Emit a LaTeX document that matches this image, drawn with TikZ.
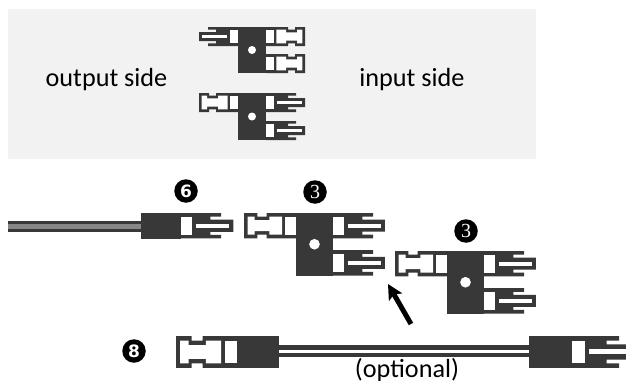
\documentclass[tikz,border=0pt]{standalone}
\usepackage{fontspec}
\setmainfont{Carlito}
\newfontfamily\badgeserif{Liberation Serif}
\newfontfamily\badgesans{DejaVu Sans}
\usetikzlibrary{arrows.meta}
\definecolor{housing}{HTML}{383838}
\definecolor{panel}{HTML}{F2F2F2}
\newcommand{\femaleshape}{%
  \path[housingfill] (0,0)--(10,0)--(10,2.7)--(17,2.7)--(17,0)--(39,0)--(39,19)--(17,19)--(17,16.3)--(10,16.3)--(10,19)--(0,19)--cycle;
  \path[gapfill] (2.7,2.7)--(8,2.7)--(8,5.4)--(19,5.4)--(19,2.7)--(28.7,2.7)--(28.7,16.3)--(19,16.3)--(19,13.6)--(8,13.6)--(8,16.3)--(2.7,16.3)--cycle;
  \path[gapfill] (31,2.7) rectangle (39,16.3);
}
\newcommand{\maleshape}{%
  \path[housingfill] (0,0)--(30,0)--(30,2.7)--(22,2.7)--(22,5)--(39,5)--(39,14)--(22,14)--(22,16.3)--(30,16.3)--(30,19)--(0,19)--cycle;
  \path[gapfill] (0,2.7) rectangle (8,16.3);
  \path[gapfill] (11,8) rectangle (36,11);
}
\newcommand{\teeshape}{%
  \femaleshape
  \path[housingfill] (39,0) rectangle (67,47);
  \begin{scope}[shift={(67,0)}]\maleshape\end{scope}
  \begin{scope}[shift={(67,28)}]\maleshape\end{scope}
  \path[gapfill] (53,23.5) circle[radius=4];
}
\tikzset{
  x=1pt,y=-1pt,
  housingfill/.style={fill=housing,draw=none},
  gapfill/.style={fill=white,draw=none},
  badge/.style={circle,fill=black,text=white,inner sep=0pt,minimum size=23.5pt},
  caption/.style={inner sep=0pt,anchor=base,font=\fontsize{26.2}{30}\selectfont,text=black},
}
\begin{document}
\begin{tikzpicture}
\useasboundingbox (0,0) rectangle (626,380);
\clip (0,0) rectangle (626,380);
\path[fill=panel] (8,9) rectangle (536,159);

% top panel, upper connector
\begin{scope}[shift={(238,27)}]
  \path[housingfill] (0,0) rectangle (28,46);
  \begin{scope}[xscale=-1]\maleshape\end{scope}
  \begin{scope}[shift={(67,0)},xscale=-1]\femaleshape\end{scope}
  \begin{scope}[shift={(67,27)},xscale=-1]\femaleshape\end{scope}
  \path[gapfill] (14,23) circle[radius=4];
\end{scope}
% top panel, lower connector
\begin{scope}[shift={(199,93)}]\teeshape\end{scope}

\node[caption] (outlabel) at (106.5,86) {output side};
\node[caption] (inlabel) at (412,86) {input side};

% connector 6 with cable
\path[housingfill] (8,221) rectangle (141,232);
\path[fill=black!47] (8,224) rectangle (141,229);
\path[housingfill] (141,213) rectangle (181,239);
\begin{scope}[shift={(181,213)},scale=1.34]\maleshape\end{scope}

% tee connectors
\begin{scope}[shift={(244,213)},scale=1.33]\teeshape\end{scope}
\begin{scope}[shift={(395,251)},scale=1.33]\teeshape\end{scope}

% optional cable
\path[housingfill] (279,345) rectangle (529,357);
\path[gapfill] (279,350) rectangle (529,353);
\begin{scope}[shift={(176,336)},xscale=1.57,yscale=1.68]\femaleshape\end{scope}
\path[housingfill] (237,336) rectangle (279,368);
\path[housingfill] (529,336) rectangle (572,368);
\begin{scope}[shift={(572,336)},xscale=1.57,yscale=1.68]\maleshape\end{scope}

\node[caption] (optlabel) at (407,377) {(optional)};

% badges
\node[badge,font=\fontsize{17}{17}\selectfont\badgesans\bfseries] (six) at (186,191) {6};
\node[badge,font=\fontsize{20}{20}\selectfont\badgeserif] (threea) at (315,192) {3};
\node[badge,font=\fontsize{20}{20}\selectfont\badgeserif] (threeb) at (466,231) {3};
\node[badge,font=\fontsize{17}{17}\selectfont\badgesans\bfseries] (eight) at (134,351) {8};

% arrow
\coordinate (arrowtail) at (411,324);
\coordinate (arrowtip) at (388,284);
\draw[line width=5pt,-{Stealth[length=15pt,width=15pt,inset=3pt]},black] (arrowtail) -- (arrowtip);
\end{tikzpicture}
\end{document}
